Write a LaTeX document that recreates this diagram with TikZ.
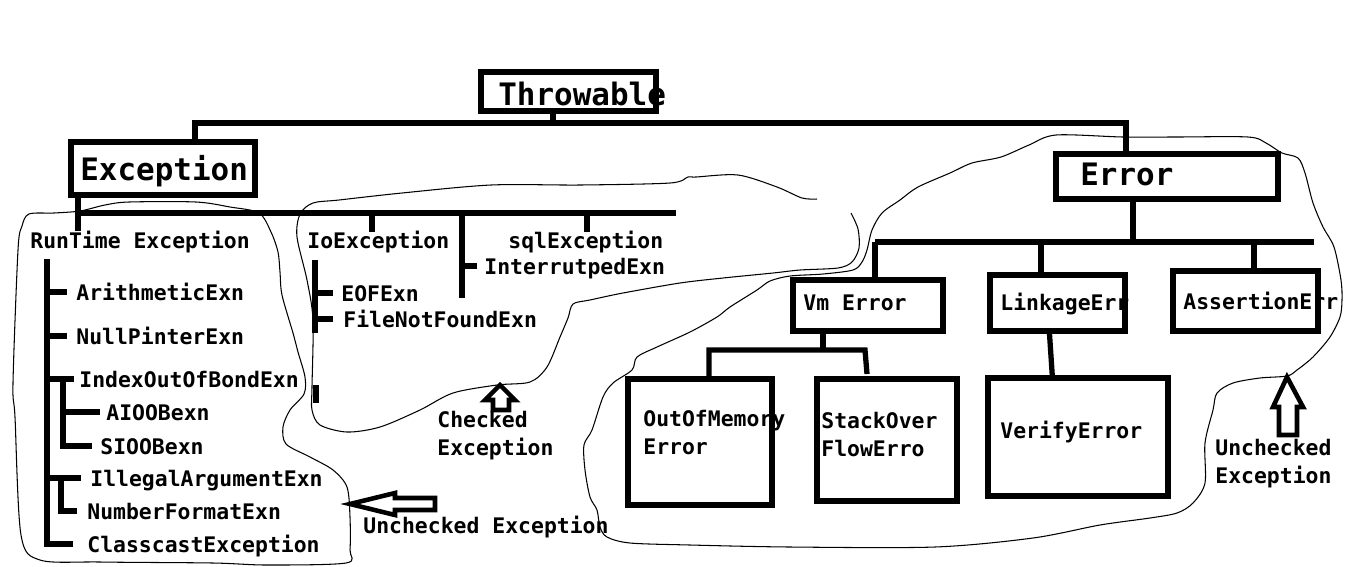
\documentclass[tikz,border=0pt]{standalone}
\usepackage{fontspec}
\newfontfamily\sketchfont{DejaVu Sans Mono}
\usetikzlibrary{fit}

\begin{document}
\begin{tikzpicture}[x=0.02cm, y=-0.02cm,
    box/.style={draw, line width=3.4pt, inner sep=0pt},
    conn/.style={line width=3pt},
    hollow/.style={draw, line width=2.6pt, fill=white, line join=miter},
    cloudline/.style={line width=0.6pt},
    lbl/.style={font=\sketchfont\bfseries\fontsize{12.2}{14}\selectfont, inner sep=0pt, anchor=base west, text height=9pt, text depth=0pt},
    big/.style={lbl, font=\sketchfont\bfseries\fontsize{17.6}{20}\selectfont}]

    \useasboundingbox (0,0) rectangle (1360,566);

    % Clouds round the groups
    \draw[cloudline] plot[smooth cycle, tension=0.5] coordinates {(29,214) (54,213) (80,211) (105,205) (129,202) (196,202) (230,207) (259,213) (271,232) (278,252) (280,272) (282,295) (293,333) (298,352) (305,377) (304,394) (290,410) (283,427) (286,444) (310,457) (333,470) (347,487) (350,517) (350,550) (346,563) (267,565) (213,563) (100,562) (40,560) (21,535) (15,417) (13,383) (18,250) (22,226)};
    \draw[cloudline] plot[smooth, tension=0.5] coordinates {(851,213) (858,229) (859,248) (852,262) (838,268) (800,270) (773,273) (723,278) (680,283) (623,293) (590,300) (573,304) (568,318) (560,337) (547,367) (530,382) (497,385) (453,393) (420,410) (380,427) (347,432) (320,425) (312,410) (312,387) (313,320) (307,280) (297,237) (300,214) (313,203) (339,200) (402,193) (491,185) (580,185) (670,183) (688,177) (696,177) (738,175) (777,187) (802,198) (817,199)};
    \draw[cloudline] plot[smooth cycle, tension=0.5] coordinates {(1056,135) (1123,137) (1176,137) (1248,137) (1266,143) (1282,153) (1298,158) (1305,173) (1313,203) (1323,227) (1334,247) (1341,280) (1342,300) (1340,317) (1330,337) (1313,357) (1297,370) (1287,376) (1260,378) (1233,383) (1217,393) (1213,410) (1205,443) (1205,483) (1193,503) (1177,513) (1150,518) (1100,525) (1033,538) (935,547) (790,547) (690,545) (630,543) (607,537) (600,527) (597,510) (590,497) (585,470) (584,445) (592,430) (603,397) (613,383) (632,370) (637,357) (657,347) (690,332) (717,317) (730,307) (757,290) (770,281) (790,276) (823,274) (853,270) (862,262) (867,250) (872,230) (882,213) (900,200) (918,187) (950,173) (972,163) (1001,157) (1029,145)};

    % Boxes
    \node[box, fit={(481,72) (656,111)}] (thr) {};
    \node[box, fit={(71,142) (255,195)}] (exc) {};
    \node[box, fit={(1056,154) (1278,199)}] (err) {};
    \node[box, fit={(793,280) (943,331)}] (vm) {};
    \node[box, fit={(990,275) (1125,331)}] (link) {};
    \node[box, fit={(1173,271) (1318,331)}] (asrt) {};
    \node[box, fit={(628,379) (772,505)}] (oom) {};
    \node[box, fit={(817,379) (957,501)}] (stk) {};
    \node[box, fit={(988,378) (1168,496)}] (ver) {};

    % Labels
    \node[big] (thrtxt) at (498,105) {Throwable};
    \node[big] (exctxt) at (80,180) {Exception};
    \node[big] (errtxt) at (1080,185) {Error};

    \node[lbl] (runtime) at (30,248) {RunTime Exception};
    \node[lbl] (arith) at (76,300) {ArithmeticExn};
    \node[lbl] (nullp) at (76,344) {NullPinterExn};
    \node[lbl] (idx) at (79,387) {IndexOutOfBondExn};
    \node[lbl] (aioob) at (106,420) {AIOOBexn};
    \node[lbl] (sioob) at (100,454) {SIOOBexn};
    \node[lbl] (illeg) at (90,486) {IllegalArgumentExn};
    \node[lbl] (numf) at (87,519) {NumberFormatExn};
    \node[lbl] (cast) at (87,552) {ClasscastException};

    \node[lbl] (io) at (307,248) {IoException};
    \node[lbl] (sql) at (508,248) {sqlException};
    \node[lbl] (intr) at (484,274) {InterrutpedExn};
    \node[lbl] (eof) at (341,301) {EOFExn};
    \node[lbl] (fnf) at (343,327) {FileNotFoundExn};

    \node[lbl] (vmtxt) at (803,310) {Vm Error};
    \node[lbl] (linktxt) at (1000,310) {LinkageErr};
    \node[lbl] (asrttxt) at (1183,309) {AssertionErr};
    \node[lbl] (oomtxt) at (643,426) {OutOfMemory};
    \node[lbl] (oomtxtb) at (643,454) {Error};
    \node[lbl] (stktxt) at (821,428) {StackOver};
    \node[lbl] (stktxtb) at (821,456) {FlowErro};
    \node[lbl] (vertxt) at (1000,438) {VerifyError};

    \node[lbl] (chk) at (437,427) {Checked};
    \node[lbl] (chkb) at (437,455) {Exception};
    \node[lbl] (unl) at (363,533) {Unchecked Exception};
    \node[lbl] (unr) at (1215,455) {Unchecked};
    \node[lbl] (unrb) at (1215,483) {Exception};

    % Throwable tree
    \coordinate (tstem) at (553,123);
    \coordinate (tl) at (195,123);
    \coordinate (tr) at (1126,123);
    \draw[conn] (thr.south -| tstem) -- (tstem);
    \draw[conn] (exc.north -| tl) -- (tl) -- (tr) -- (err.north -| tr);

    % Exception tree
    \coordinate (el) at (78,213);
    \coordinate (er) at (676,213);
    \coordinate (dio) at (372,213);
    \coordinate (dint) at (462,213);
    \coordinate (dsql) at (587,213);
    \draw[conn] (exc.south -| el) -- ++(0,33);
    \draw[conn] (el) -- (er);
    \draw[conn] (dio) -- (dio |- io.north);
    \draw[conn] (dsql) -- (dsql |- sql.north);
    \draw[conn] (dint) -- ++(0,85);
    \draw[conn] (dint |- intr.west) -- ++(15,0);

    % RunTime list
    \coordinate (rtop) at (47,259);
    \draw[conn] (rtop) -- (rtop |- cast.west) -- ++(26,0);
    \draw[conn] (rtop |- arith.west) -- ++(20,0);
    \draw[conn] (rtop |- nullp.west) -- ++(20,0);
    \draw[conn] (rtop |- idx.west) -- ++(27,0);
    \draw[conn] (rtop |- illeg.west) -- ++(34,0);
    \coordinate (sub1) at (63,381);
    \draw[conn] (sub1) -- (sub1 |- sioob.west) -- ++(29,0);
    \draw[conn] (sub1 |- aioob.west) -- ++(37,0);
    \coordinate (sub2) at (61,480);
    \draw[conn] (sub2) -- (sub2 |- numf.west) -- ++(16,0);

    % IoException list
    \coordinate (iotop) at (315,260);
    \draw[conn] (iotop) -- ++(0,73);
    \draw[conn] (iotop |- eof.west) -- ++(18,0);
    \draw[conn] (iotop |- fnf.west) -- ++(18,0);
    \draw[conn] (316,385) -- (316,403);

    % Error tree
    \coordinate (eb) at (1133,242);
    \coordinate (ebl) at (875,242);
    \coordinate (ebr) at (1314,242);
    \coordinate (dlk) at (1041,242);
    \coordinate (das) at (1254,242);
    \draw[conn] (err.south -| eb) -- (eb);
    \draw[conn] (ebl) -- (ebr);
    \draw[conn] (ebl) -- (ebl |- vm.north);
    \draw[conn] (dlk) -- (dlk |- link.north);
    \draw[conn] (das) -- (das |- asrt.north);

    % Vm Error tree
    \coordinate (vb) at (823,350);
    \coordinate (vbl) at (709,350);
    \coordinate (vbr) at (865,350);
    \draw[conn] (vm.south -| vb) -- (vb);
    \draw[conn] (vbl |- oom.north) -- (vbl) -- (vbr) -- ++(2,24);
    \draw[conn] (link.south) ++(-8,0) -- ++(3,45);

    % Hollow arrows
    \draw[hollow] (350,504) -- (395,493) -- (395,498) -- (435,498) -- (435,510) -- (395,510) -- (395,515) -- cycle;
    \draw[hollow] (500,385) -- (515,400) -- (509,400) -- (509,410) -- (493,410) -- (493,400) -- (485,400) -- cycle;
    \draw[hollow] (1287,377) -- (1303,407) -- (1297,407) -- (1297,435) -- (1279,435) -- (1279,407) -- (1273,407) -- cycle;

\end{tikzpicture}
\end{document}
